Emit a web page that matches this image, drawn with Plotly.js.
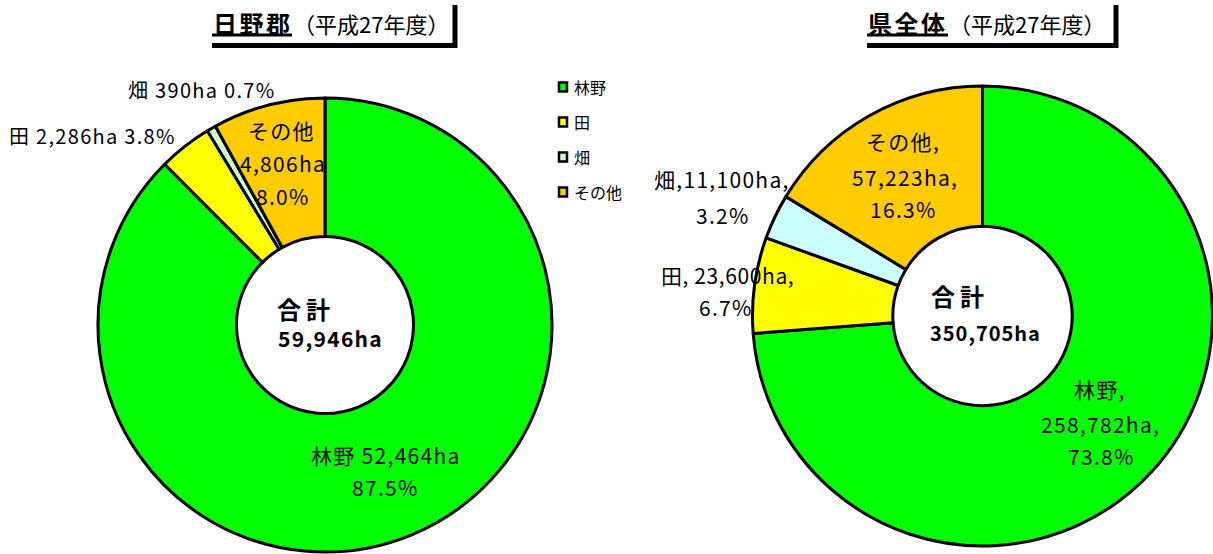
<!DOCTYPE html>
<html>
<head>
<meta charset="utf-8">
<script src="https://cdn.plot.ly/plotly-3.0.1.min.js"></script>
<style>html,body{margin:0;padding:0;background:#fff;}#chart{width:1213px;height:554px;}</style>
</head>
<body>
<div id="chart"></div>
<script>
// ---- data ----
const categories = ['林野', '田', '畑', 'その他'];
const hinoValues = [52464, 2286, 390, 4806];
const prefValues = [258782, 23600, 11100, 57223];
const hinoColors = ['#00FF00', '#FFFF00', '#CCFFCC', '#FFCC00'];
const prefColors = ['#00FF00', '#FFFF00', '#CCFFFF', '#FFCC00'];
const chartNames = ['日野郡', '県全体'];
const yearLabel = '（平成27年度）';
const totalLabel = '合計';
const unit = 'ha';

// ---- helpers ----
const W = 1213, H = 554;
const px = x => x / W;
const py = y => 1 - y / H;
const fmt = v => v.toLocaleString('en-US');
const sum = a => a.reduce((s, v) => s + v, 0);
const pct = (v, a) => (v / sum(a) * 100).toFixed(1) + '%';
const FONT = 'Noto Sans CJK JP, sans-serif';
const sp = (t, ls) => '<span style="letter-spacing:' + ls + 'px">' + t + '</span>';

const pieCommon = {
  type: 'pie',
  sort: false,
  direction: 'clockwise',
  rotation: 0,
  hole: 0.39,
  textinfo: 'none',
  hoverinfo: 'label+value+percent'
};

const traces = [
  Object.assign({}, pieCommon, {
    labels: categories, values: hinoValues,
    marker: {colors: hinoColors, line: {color: '#000', width: 3}},
    domain: {x: [px(98), px(552)], y: [py(552), py(98)]},
    showlegend: false, name: chartNames[0]
  }),
  Object.assign({}, pieCommon, {
    labels: categories, values: prefValues,
    marker: {colors: prefColors, line: {color: '#000', width: 3}},
    domain: {x: [px(752), 1], y: [py(546), py(86)]},
    showlegend: false, name: chartNames[1]
  })
];

const ann = [];
const shapes = [];
function txt(text, x, y, size, opts) {
  ann.push(Object.assign({
    text: text, x: px(x), y: py(y), xref: 'paper', yref: 'paper',
    showarrow: false, xanchor: 'center', yanchor: 'middle',
    font: {family: FONT, size: size, color: '#000'}
  }, opts || {}));
}
function line(x0, y0, x1, y1, w) {
  shapes.push({type: 'line', xref: 'paper', yref: 'paper', x0: px(x0), x1: px(x1), y0: py(y0), y1: py(y1), line: {color: '#000', width: w}});
}

// titles with drop-shadow frame
const titleX = [[212, 292, 455], [867, 948, 1116]];
chartNames.forEach((n, i) => {
  const [a, u, b] = titleX[i];
  txt('<b>' + sp(n, 2.5) + '</b>', a - 1, 22, 24, {xanchor: 'left'});
  txt(yearLabel, u - 1, 22.5, 22, {xanchor: 'left'});
  line(a, 35, u, 35, 3);
  line(a, 45.5, b + 2, 45.5, 5);
  line(b, 5, b, 48, 5);
});

// left pie labels (日野郡)
const LS = 1.3;
txt(sp(categories[0] + ' ' + fmt(hinoValues[0]) + unit, LS), 386, 455, 21);
txt(sp(pct(hinoValues[0], hinoValues), LS), 385, 487, 21);
txt(sp(categories[1] + ' ' + fmt(hinoValues[1]) + unit + ' ' + pct(hinoValues[1], hinoValues), LS), 92, 135, 20);
txt(sp(categories[2] + ' ' + fmt(hinoValues[2]) + unit + ' ' + pct(hinoValues[2], hinoValues), LS), 201, 90, 20);
txt(sp(categories[3], LS), 281, 130, 21);
txt(sp(fmt(hinoValues[3]) + unit, LS), 283, 163, 21);
txt(sp(pct(hinoValues[3], hinoValues), LS), 283, 196, 21);

// right pie labels (県全体)
txt(sp(categories[3] + ',', LS), 903, 141, 21);
txt(sp(fmt(prefValues[3]) + unit + ',', LS), 905, 177, 21);
txt(sp(pct(prefValues[3], prefValues), LS), 903, 209, 21);
txt(sp(categories[2] + ',' + fmt(prefValues[2]) + unit + ',', LS), 722, 179, 21);
txt(sp(pct(prefValues[2], prefValues), LS), 723, 215, 21);
txt(sp(categories[1] + ', ' + fmt(prefValues[1]) + unit + ',', 0.6), 727, 275, 21);
txt(sp(pct(prefValues[1], prefValues), LS), 726, 307, 21);
txt(sp(categories[0] + ',', LS), 1100, 389, 21);
txt(sp(fmt(prefValues[0]) + unit + ',', LS), 1100, 424, 21);
txt(sp(pct(prefValues[0], prefValues), LS), 1101, 456, 21);

// center totals
txt('<b>' + sp(totalLabel, 5) + '</b>', 275, 308, 24, {xanchor: 'left'});
txt('<b>' + sp(fmt(sum(hinoValues)) + unit, 1.3) + '</b>', 276, 338, 21, {xanchor: 'left'});
txt('<b>' + sp(totalLabel, 5) + '</b>', 929, 295, 24, {xanchor: 'left'});
txt('<b>' + sp(fmt(sum(prefValues)) + unit, 1) + '</b>', 928, 332, 20, {xanchor: 'left'});

// legend (from 日野郡 colours)
const legY = [87, 122, 157, 192];
categories.forEach((c, i) => {
  shapes.push({type: 'rect', xref: 'paper', yref: 'paper',
    x0: px(559), x1: px(567), y0: py(legY[i] + 4.5), y1: py(legY[i] - 4.5),
    fillcolor: hinoColors[i], line: {color: '#000', width: 2.5}});
  txt(c, 572, legY[i], 16, {xanchor: 'left'});
});

const layout = {
  width: W, height: H,
  margin: {l: 0, r: 0, t: 0, b: 0},
  paper_bgcolor: '#fff', plot_bgcolor: '#fff',
  font: {family: FONT, color: '#000'},
  showlegend: false,
  annotations: ann,
  shapes: shapes
};

Plotly.newPlot('chart', traces, layout, {displayModeBar: false, staticPlot: true});
</script>
</body>
</html>
